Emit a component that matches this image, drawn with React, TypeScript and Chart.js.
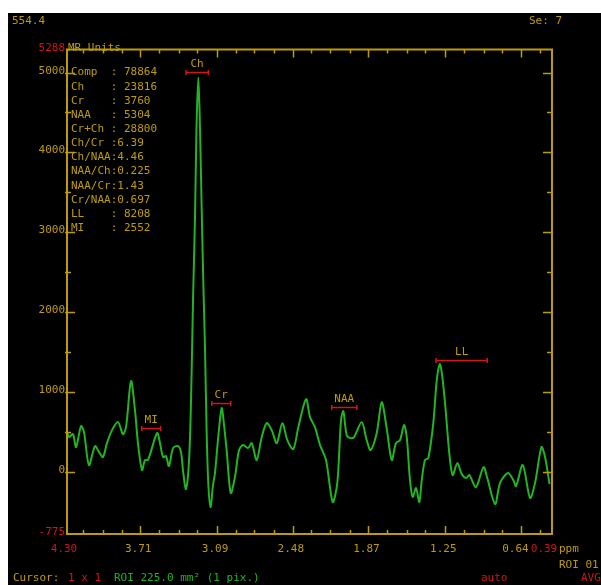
import React, { useEffect, useRef } from "react";
import { Chart, registerables } from "chart.js";

Chart.register(...registerables);

// ---- spectrum (ppm, MR units) ----
const PPM = [
  4.300, 4.284, 4.252, 4.227, 4.187, 4.163, 4.123, 4.074, 4.042, 4.010,
  3.978, 3.937, 3.889, 3.849, 3.824, 3.784, 3.752, 3.728, 3.695, 3.671,
  3.647, 3.574, 3.550, 3.526, 3.502, 3.478, 3.445, 3.405, 3.381, 3.365,
  3.341, 3.316, 3.300, 3.284, 3.268, 3.256, 3.241, 3.228, 3.214, 3.201,
  3.187, 3.174, 3.161, 3.143, 3.123, 3.107, 3.083, 3.053, 3.034, 3.013,
  2.980, 2.946, 2.913, 2.881, 2.841, 2.811, 2.771, 2.730, 2.690, 2.650,
  2.609, 2.564, 2.524, 2.476, 2.435, 2.373, 2.341, 2.301, 2.260, 2.212,
  2.158, 2.121, 2.091, 2.072, 2.045, 2.013, 1.986, 1.924, 1.884, 1.852,
  1.803, 1.763, 1.723, 1.682, 1.648, 1.615, 1.583, 1.561, 1.535, 1.513,
  1.486, 1.460, 1.440, 1.414, 1.387, 1.347, 1.319, 1.295, 1.279, 1.253,
  1.218, 1.191, 1.153, 1.118, 1.083, 1.057, 1.003, 0.942, 0.914, 0.849,
  0.809, 0.745, 0.702, 0.680, 0.626, 0.567, 0.527, 0.475, 0.446, 0.410,
];
const SIGNAL = [
  512, 438, 475, 312, 575, 500, 88, 325, 250, 188,
  362, 525, 625, 475, 562, 1138, 775, 362, 25, 150,
  150, 488, 362, 188, 200, 75, 300, 325, 250, 25,
  -212, 150, 900, 2150, 3188, 4312, 4938, 4312, 3275, 2362,
  1525, 488, -138, -438, -162, -12, 400, 800, 588, 275,
  -262, -62, 275, 338, 300, 362, 150, 438, 612, 525,
  362, 612, 400, 288, 562, 912, 688, 562, 338, 150,
  -375, -138, 650, 762, 462, 425, 438, 625, 400, 275,
  488, 875, 550, 150, 362, 400, 588, 438, -100, -312,
  -200, -375, -100, 150, 175, 612, 1150, 1350, 1250, 875,
  238, -38, 112, -25, -75, -38, -188, 62, -62, -400,
  -138, -12, -100, -175, 88, -325, -138, 312, 188, -150,
];

// ---- axes ----
const X_MIN = 0.39;
const X_MAX = 4.3;
const Y_MIN = -775;
const Y_MAX = 5288;
const X_LABELS = ["4.30", "3.71", "3.09", "2.48", "1.87", "1.25", "0.64", "0.39"];
const X_LABEL_VALUES = [4.3, 3.71, 3.09, 2.48, 1.87, 1.25, 0.64, 0.39];
const X_MAJOR_TICKS = [3.71, 3.09, 2.48, 1.87, 1.25, 0.64];
const X_MINOR_TICKS = [
  4.17, 4.01, 3.86, 3.56, 3.4, 3.25, 2.94, 2.79, 2.63, 2.33, 2.18, 2.02,
  1.72, 1.56, 1.41, 1.1, 0.94, 0.79, 0.49,
];
const Y_LABEL_VALUES = [5000, 4000, 3000, 2000, 1000, 0];
const Y_MAJOR_TICKS = [0, 1000, 2000, 3000, 4000, 5000];
const Y_MINOR_TICKS = [500, 1500, 2500, 3500, 4500];

// ---- peak markers ----
const PEAK_NAMES = ["Ch", "MI", "Cr", "NAA", "LL"];
const PEAK_FROM = [3.341, 3.698, 3.133, 2.166, 1.325];
const PEAK_TO = [3.161, 3.545, 2.98, 1.964, 0.912];
const PEAK_LEVEL = [5004, 546, 859, 816, 1400];

// ---- results text ----
const STATS_LINES = [
  "Comp  : 78864",
  "Ch    : 23816",
  "Cr    : 3760",
  "NAA   : 5304",
  "Cr+Ch : 28800",
  "Ch/Cr :6.39",
  "Ch/NAA:4.46",
  "NAA/Ch:0.225",
  "NAA/Cr:1.43",
  "Cr/NAA:0.697",
  "LL    : 8208",
  "MI    : 2552",
];

const GOLD = "#bc9c0a";
const RED = "#d01616";
const GREEN = "#22b422";
const FONT = '11px "DejaVu Sans Mono", monospace';
const X_LABEL_SHIFT = [-3, -2, -2, -2, -2, -2, -5.5, -8];

const overlay = {
  id: "mrsOverlay",
  afterDraw(chart: any) {
    const ctx = chart.ctx as CanvasRenderingContext2D;
    const xs = chart.scales.x;
    const ys = chart.scales.y;
    const a = chart.chartArea;
    ctx.save();

    // frame
    ctx.strokeStyle = GOLD;
    ctx.lineWidth = 2;
    ctx.strokeRect(a.left, a.top, a.right - a.left, a.bottom - a.top);

    // x ticks (top & bottom, inward)
    ctx.lineWidth = 1.5;
    const xt = (v: number, len: number) => {
      const px = Math.round(xs.getPixelForValue(v)) + 0.5;
      ctx.beginPath();
      ctx.moveTo(px, a.bottom);
      ctx.lineTo(px, a.bottom - len);
      ctx.moveTo(px, a.top);
      ctx.lineTo(px, a.top + len);
      ctx.stroke();
    };
    X_MAJOR_TICKS.forEach((v) => xt(v, 8));
    X_MINOR_TICKS.forEach((v) => xt(v, 4));

    // y ticks (left & right, inward)
    const yt = (v: number, lenL: number, lenR: number) => {
      const py = Math.round(ys.getPixelForValue(v)) + 0.5;
      ctx.beginPath();
      ctx.moveTo(a.left - 2, py);
      ctx.lineTo(a.left + lenL, py);
      ctx.moveTo(a.right, py);
      ctx.lineTo(a.right - lenR, py);
      ctx.stroke();
    };
    Y_MAJOR_TICKS.forEach((v) => yt(v, 8, 9));
    Y_MINOR_TICKS.forEach((v) => yt(v, 4, 5));

    ctx.font = FONT;
    // y labels
    ctx.textAlign = "right";
    ctx.textBaseline = "alphabetic";
    Y_LABEL_VALUES.forEach((v) => {
      ctx.fillStyle = GOLD;
      ctx.fillText(String(v), a.left - 2, ys.getPixelForValue(v) + 1);
    });
    ctx.fillStyle = RED;
    ctx.fillText(String(Y_MIN), a.left - 2, ys.getPixelForValue(Y_MIN) + 1);
    ctx.fillText(String(Y_MAX), a.left - 2, ys.getPixelForValue(Y_MAX) + 1);
    ctx.textAlign = "left";
    ctx.fillStyle = GOLD;
    ctx.fillText("MR Units", a.left + 1, ys.getPixelForValue(Y_MAX) + 1);

    // x labels
    ctx.textAlign = "center";
    ctx.textBaseline = "middle";
    X_LABELS.forEach((t, i) => {
      const edge = i === 0 || i === X_LABELS.length - 1;
      ctx.fillStyle = edge ? RED : GOLD;
      ctx.fillText(t, xs.getPixelForValue(X_LABEL_VALUES[i]) + X_LABEL_SHIFT[i], a.bottom + 15);
    });
    ctx.textAlign = "left";
    ctx.fillStyle = GOLD;
    ctx.fillText("ppm", a.right + 7, a.bottom + 15);
    ctx.fillText("ROI 01", a.right + 7, a.bottom + 31);

    // header
    ctx.fillText("554.4", 4, 8);
    ctx.fillText("Se: 7", 521, 8);

    // results
    STATS_LINES.forEach((t, i) => {
      ctx.fillText(t, a.left + 4, a.top + 23 + i * 14.15);
    });

    // peak markers
    PEAK_NAMES.forEach((name, i) => {
      const x1 = xs.getPixelForValue(PEAK_FROM[i]);
      const x2 = xs.getPixelForValue(PEAK_TO[i]);
      const y = Math.round(ys.getPixelForValue(PEAK_LEVEL[i])) + 0.5;
      ctx.strokeStyle = RED;
      ctx.lineWidth = 1.5;
      ctx.beginPath();
      ctx.moveTo(x1, y);
      ctx.lineTo(x2, y);
      ctx.moveTo(x1, y - 2.5);
      ctx.lineTo(x1, y + 2.5);
      ctx.moveTo(x2, y - 2.5);
      ctx.lineTo(x2, y + 2.5);
      ctx.stroke();
      ctx.fillStyle = GOLD;
      ctx.textAlign = "center";
      ctx.fillText(name, (x1 + x2) / 2, y - 8);
    });

    // footer
    ctx.textAlign = "left";
    const fy = a.bottom + 44;
    ctx.fillStyle = GOLD;
    ctx.fillText("Cursor:", 5, fy);
    ctx.fillStyle = RED;
    ctx.fillText("1 x 1", 60, fy);
    ctx.fillStyle = GREEN;
    ctx.fillText("ROI 225.0 mm\u00b2 (1 pix.)", 106, fy);
    ctx.fillStyle = RED;
    ctx.fillText("auto", 473, fy);
    ctx.fillText("AVG", 573, fy);

    ctx.restore();
  },
};

export default function App() {
  const ref = useRef<HTMLCanvasElement>(null);
  useEffect(() => {
    if (!ref.current) return;
    const pts = PPM.map((p, i) => ({ x: p, y: SIGNAL[i] }));
    const chart = new Chart(ref.current, {
      type: "line",
      data: {
        datasets: [
          {
            data: pts,
            borderColor: GREEN,
            borderWidth: 2,
            pointRadius: 0,
            tension: 0.3,
            fill: false,
          },
        ],
      },
      options: {
        animation: false,
        responsive: false,
        devicePixelRatio: 1,
        layout: { padding: { left: 59, right: 49, top: 36.5, bottom: 51 } },
        scales: {
          x: { type: "linear", reverse: true, min: X_MIN, max: X_MAX, display: false },
          y: { type: "linear", min: Y_MIN, max: Y_MAX, display: false },
        },
        plugins: { legend: { display: false }, tooltip: { enabled: false } },
      },
      plugins: [overlay],
    } as any);
    return () => chart.destroy();
  }, []);
  return (
    <div
      style={{
        position: "fixed",
        left: 8,
        top: 13,
        width: 593,
        height: 572,
        background: "#000",
      }}
    >
      <canvas ref={ref} width={593} height={572} style={{ display: "block" }} />
    </div>
  );
}
